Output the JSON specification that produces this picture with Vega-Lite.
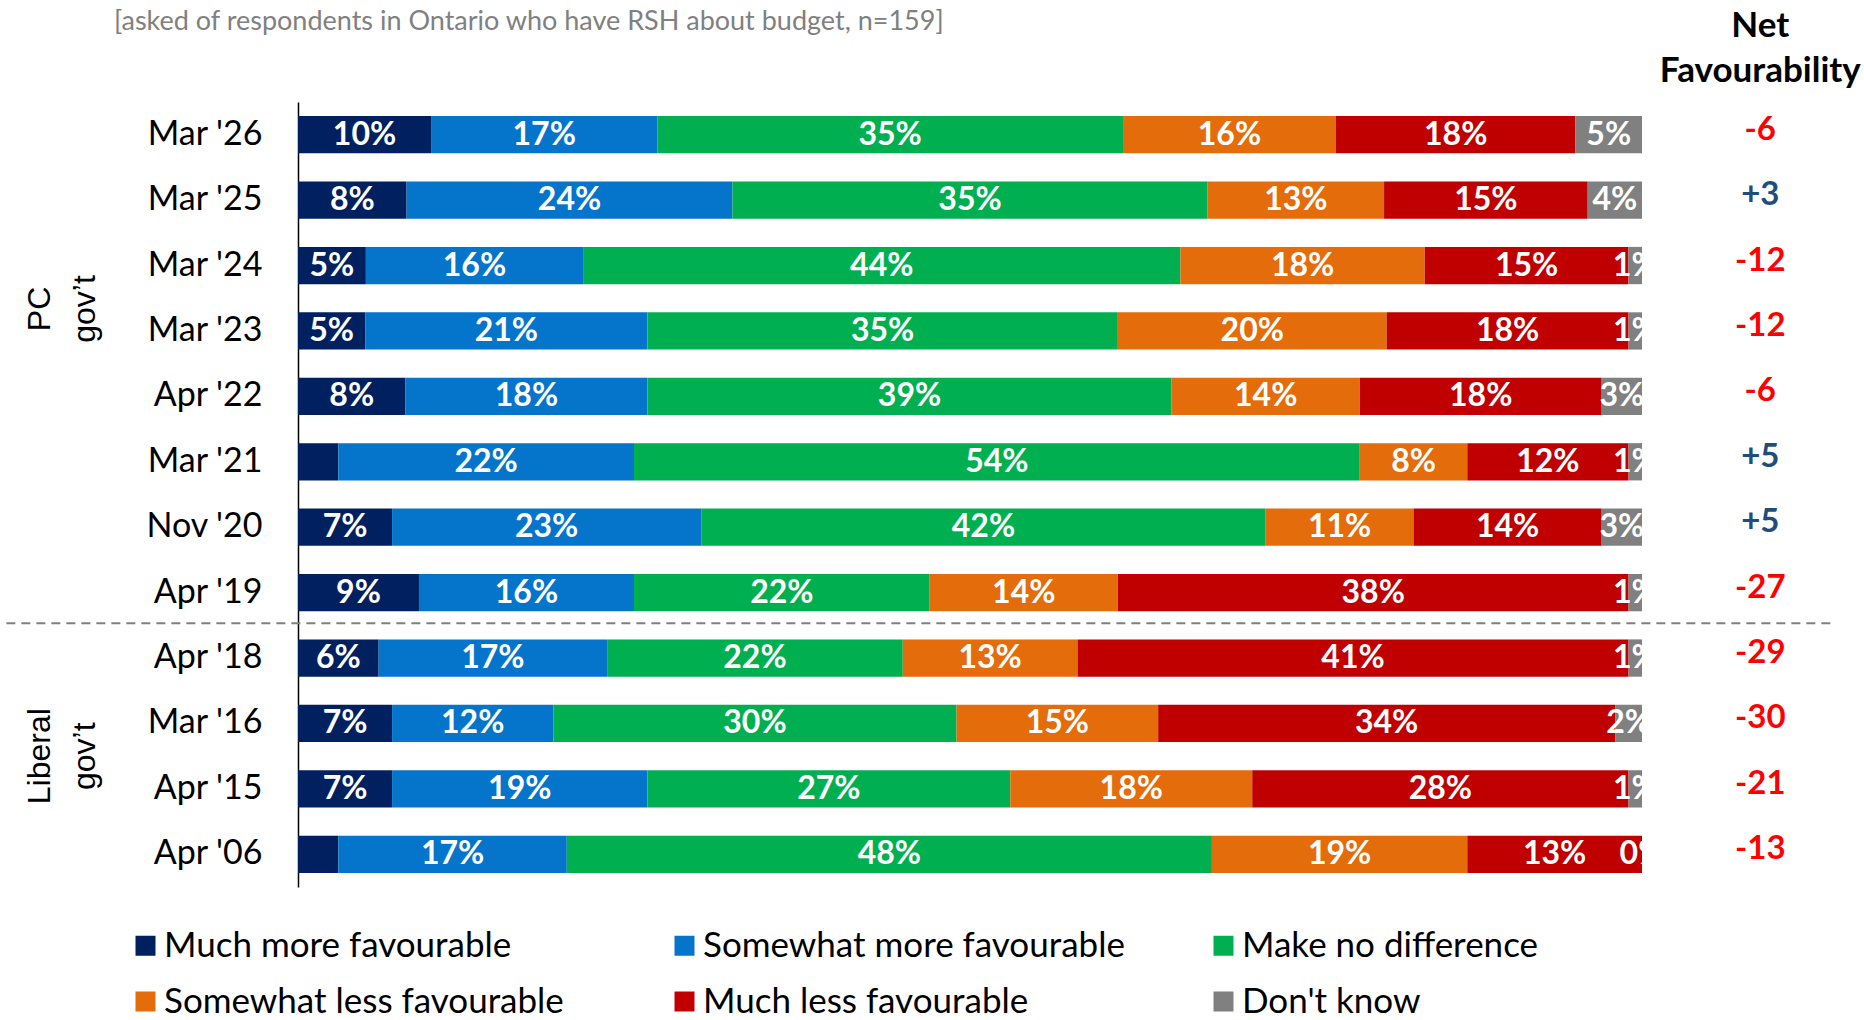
{
  "$schema": "https://vega.github.io/schema/vega-lite/v6.json",
  "width": 1344,
  "height": 785,
  "autosize": {"type": "none"},
  "padding": {"left": 298, "top": 102, "right": 222, "bottom": 133},
  "background": "white",
  "datasets": {
    "scale": [
      {"response": "Much more favourable", "rank": 1},
      {"response": "Somewhat more favourable", "rank": 2},
      {"response": "Make no difference", "rank": 3},
      {"response": "Somewhat less favourable", "rank": 4},
      {"response": "Much less favourable", "rank": 5},
      {"response": "Don't know", "rank": 6}
    ],
    "net": [
      {"period": "Mar '26", "net": "-6"},
      {"period": "Mar '25", "net": "+3"},
      {"period": "Mar '24", "net": "-12"},
      {"period": "Mar '23", "net": "-12"},
      {"period": "Apr '22", "net": "-6"},
      {"period": "Mar '21", "net": "+5"},
      {"period": "Nov '20", "net": "+5"},
      {"period": "Apr '19", "net": "-27"},
      {"period": "Apr '18", "net": "-29"},
      {"period": "Mar '16", "net": "-30"},
      {"period": "Apr '15", "net": "-21"},
      {"period": "Apr '06", "net": "-13"}
    ],
    "resp": [
      {"period": "Mar '26", "response": "Much more favourable", "share": 0.10},
      {"period": "Mar '26", "response": "Somewhat more favourable", "share": 0.17},
      {"period": "Mar '26", "response": "Make no difference", "share": 0.35},
      {"period": "Mar '26", "response": "Somewhat less favourable", "share": 0.16},
      {"period": "Mar '26", "response": "Much less favourable", "share": 0.18},
      {"period": "Mar '26", "response": "Don't know", "share": 0.05},
      {"period": "Mar '25", "response": "Much more favourable", "share": 0.08},
      {"period": "Mar '25", "response": "Somewhat more favourable", "share": 0.24},
      {"period": "Mar '25", "response": "Make no difference", "share": 0.35},
      {"period": "Mar '25", "response": "Somewhat less favourable", "share": 0.13},
      {"period": "Mar '25", "response": "Much less favourable", "share": 0.15},
      {"period": "Mar '25", "response": "Don't know", "share": 0.04},
      {"period": "Mar '24", "response": "Much more favourable", "share": 0.05},
      {"period": "Mar '24", "response": "Somewhat more favourable", "share": 0.16},
      {"period": "Mar '24", "response": "Make no difference", "share": 0.44},
      {"period": "Mar '24", "response": "Somewhat less favourable", "share": 0.18},
      {"period": "Mar '24", "response": "Much less favourable", "share": 0.15},
      {"period": "Mar '24", "response": "Don't know", "share": 0.01},
      {"period": "Mar '23", "response": "Much more favourable", "share": 0.05},
      {"period": "Mar '23", "response": "Somewhat more favourable", "share": 0.21},
      {"period": "Mar '23", "response": "Make no difference", "share": 0.35},
      {"period": "Mar '23", "response": "Somewhat less favourable", "share": 0.20},
      {"period": "Mar '23", "response": "Much less favourable", "share": 0.18},
      {"period": "Mar '23", "response": "Don't know", "share": 0.01},
      {"period": "Apr '22", "response": "Much more favourable", "share": 0.08},
      {"period": "Apr '22", "response": "Somewhat more favourable", "share": 0.18},
      {"period": "Apr '22", "response": "Make no difference", "share": 0.39},
      {"period": "Apr '22", "response": "Somewhat less favourable", "share": 0.14},
      {"period": "Apr '22", "response": "Much less favourable", "share": 0.18},
      {"period": "Apr '22", "response": "Don't know", "share": 0.03},
      {"period": "Mar '21", "response": "Much more favourable", "share": 0.03},
      {"period": "Mar '21", "response": "Somewhat more favourable", "share": 0.22},
      {"period": "Mar '21", "response": "Make no difference", "share": 0.54},
      {"period": "Mar '21", "response": "Somewhat less favourable", "share": 0.08},
      {"period": "Mar '21", "response": "Much less favourable", "share": 0.12},
      {"period": "Mar '21", "response": "Don't know", "share": 0.01},
      {"period": "Nov '20", "response": "Much more favourable", "share": 0.07},
      {"period": "Nov '20", "response": "Somewhat more favourable", "share": 0.23},
      {"period": "Nov '20", "response": "Make no difference", "share": 0.42},
      {"period": "Nov '20", "response": "Somewhat less favourable", "share": 0.11},
      {"period": "Nov '20", "response": "Much less favourable", "share": 0.14},
      {"period": "Nov '20", "response": "Don't know", "share": 0.03},
      {"period": "Apr '19", "response": "Much more favourable", "share": 0.09},
      {"period": "Apr '19", "response": "Somewhat more favourable", "share": 0.16},
      {"period": "Apr '19", "response": "Make no difference", "share": 0.22},
      {"period": "Apr '19", "response": "Somewhat less favourable", "share": 0.14},
      {"period": "Apr '19", "response": "Much less favourable", "share": 0.38},
      {"period": "Apr '19", "response": "Don't know", "share": 0.01},
      {"period": "Apr '18", "response": "Much more favourable", "share": 0.06},
      {"period": "Apr '18", "response": "Somewhat more favourable", "share": 0.17},
      {"period": "Apr '18", "response": "Make no difference", "share": 0.22},
      {"period": "Apr '18", "response": "Somewhat less favourable", "share": 0.13},
      {"period": "Apr '18", "response": "Much less favourable", "share": 0.41},
      {"period": "Apr '18", "response": "Don't know", "share": 0.01},
      {"period": "Mar '16", "response": "Much more favourable", "share": 0.07},
      {"period": "Mar '16", "response": "Somewhat more favourable", "share": 0.12},
      {"period": "Mar '16", "response": "Make no difference", "share": 0.30},
      {"period": "Mar '16", "response": "Somewhat less favourable", "share": 0.15},
      {"period": "Mar '16", "response": "Much less favourable", "share": 0.34},
      {"period": "Mar '16", "response": "Don't know", "share": 0.02},
      {"period": "Apr '15", "response": "Much more favourable", "share": 0.07},
      {"period": "Apr '15", "response": "Somewhat more favourable", "share": 0.19},
      {"period": "Apr '15", "response": "Make no difference", "share": 0.27},
      {"period": "Apr '15", "response": "Somewhat less favourable", "share": 0.18},
      {"period": "Apr '15", "response": "Much less favourable", "share": 0.28},
      {"period": "Apr '15", "response": "Don't know", "share": 0.01},
      {"period": "Apr '06", "response": "Much more favourable", "share": 0.03},
      {"period": "Apr '06", "response": "Somewhat more favourable", "share": 0.17},
      {"period": "Apr '06", "response": "Make no difference", "share": 0.48},
      {"period": "Apr '06", "response": "Somewhat less favourable", "share": 0.19},
      {"period": "Apr '06", "response": "Much less favourable", "share": 0.13},
      {"period": "Apr '06", "response": "Don't know", "share": 0.0}
    ]
  },
  "config": {
    "view": {"stroke": null},
    "font": "Lato",
    "axisX": {"disable": true},
    "axisY": {
      "domainColor": "black",
      "domainWidth": 1.5,
      "ticks": false,
      "tickSize": 0,
      "labelPadding": 36,
      "labelFontSize": 34,
      "labelFont": "Lato",
      "labelColor": "black",
      "grid": false
    }
  },
  "layer": [
    {
      "data": {"name": "resp"},
      "transform": [
        {"lookup": "response", "from": {"data": {"name": "scale"}, "key": "response", "fields": ["rank"]}}
      ],
      "mark": {"type": "bar"},
      "encoding": {
        "y": {
          "field": "period",
          "type": "nominal",
          "title": null,
          "scale": {
            "domain": ["Mar '26", "Mar '25", "Mar '24", "Mar '23", "Apr '22", "Mar '21", "Nov '20", "Apr '19", "Apr '18", "Mar '16", "Apr '15", "Apr '06"],
            "paddingInner": 0.43,
            "paddingOuter": 0.215
          }
        },
        "x": {
          "field": "share",
          "type": "quantitative",
          "stack": "normalize",
          "title": null,
          "scale": {"domain": [0, 1], "nice": false, "zero": false}
        },
        "color": {
          "field": "response",
          "type": "nominal",
          "scale": {
            "domain": ["Much more favourable", "Somewhat more favourable", "Make no difference", "Somewhat less favourable", "Much less favourable", "Don't know"],
            "range": ["#002060", "#0574CB", "#00B050", "#E46C0A", "#C00000", "#808080"]
          },
          "legend": {
            "title": null,
            "orient": "none",
            "legendX": -170,
            "legendY": 826,
            "direction": "horizontal",
            "columns": 3,
            "gridAlign": "all",
            "columnPadding": 81,
            "rowPadding": 20,
            "symbolType": "square",
            "symbolSize": 400,
            "symbolStrokeWidth": 0,
            "labelFontSize": 35,
            "labelFont": "Lato",
            "labelColor": "black",
            "labelOffset": 1,
            "labelLimit": 800
          }
        },
        "order": {"field": "rank", "type": "quantitative"}
      }
    },
    {
      "data": {"name": "resp"},
      "transform": [
        {"lookup": "response", "from": {"data": {"name": "scale"}, "key": "response", "fields": ["rank"]}}
      ],
      "mark": {"type": "text", "color": "white", "fontWeight": "bold", "fontSize": 32, "font": "Lato", "baseline": "middle", "align": "center", "clip": true},
      "encoding": {
        "y": {"field": "period", "type": "nominal", "title": null},
        "x": {"field": "share", "type": "quantitative", "stack": "normalize", "bandPosition": 0.5, "title": null},
        "detail": {"field": "response", "type": "nominal"},
        "order": {"field": "rank", "type": "quantitative"},
        "text": {"field": "share", "type": "quantitative", "format": ".0%"},
        "opacity": {"condition": {"test": "datum.response == \"Don't know\" || datum.share > 0.035", "value": 1}, "value": 0}
      }
    },
    {
      "data": {"name": "net"},
      "mark": {"type": "text", "fontWeight": "bold", "fontSize": 33, "font": "Lato", "baseline": "middle", "align": "center", "dy": -5},
      "encoding": {
        "y": {"field": "period", "type": "nominal", "title": null},
        "x": {"datum": 1.088},
        "text": {"field": "net", "type": "nominal"},
        "color": {"condition": {"test": "toNumber(datum.net) < 0", "value": "#FF0000"}, "value": "#1F4E79"}
      }
    },
    {
      "data": {"values": [{"h": "Net Favourability"}]},
      "mark": {"type": "text", "fontWeight": "bold", "fontSize": 35, "font": "Lato", "baseline": "alphabetic", "align": "center", "lineBreak": " ", "lineHeight": 45, "color": "black"},
      "encoding": {
        "x": {"datum": 1.088},
        "y": {"datum": "Mar '26", "type": "nominal", "bandPosition": -2.127, "title": null},
        "text": {"field": "h", "type": "nominal"}
      }
    },
    {
      "data": {"values": [{"t": "[asked of respondents in Ontario who have RSH about budget, n=159]"}]},
      "mark": {"type": "text", "fontSize": 27, "font": "Lato", "baseline": "alphabetic", "align": "left", "color": "#808080"},
      "encoding": {
        "x": {"datum": -0.1369},
        "y": {"datum": "Mar '26", "type": "nominal", "bandPosition": -2.308, "title": null},
        "text": {"field": "t", "type": "nominal"}
      }
    },
    {
      "data": {"values": [{"g": "PC gov’t"}]},
      "mark": {"type": "text", "angle": 270, "font": "Liberation Sans", "fontSize": 32, "lineBreak": " ", "lineHeight": 45, "align": "center", "baseline": "middle", "color": "black"},
      "encoding": {
        "x": {"datum": -0.192},
        "y": {"datum": "Mar '23", "type": "nominal", "bandPosition": -0.09, "title": null},
        "text": {"field": "g", "type": "nominal"}
      }
    },
    {
      "data": {"values": [{"g": "Liberal gov’t"}]},
      "mark": {"type": "text", "angle": 270, "font": "Liberation Sans", "fontSize": 32, "lineBreak": " ", "lineHeight": 45, "align": "center", "baseline": "middle", "color": "black"},
      "encoding": {
        "x": {"datum": -0.192},
        "y": {"datum": "Apr '15", "type": "nominal", "bandPosition": -0.375, "title": null},
        "text": {"field": "g", "type": "nominal"}
      }
    },
    {
      "data": {"values": [{"s": "PC / Liberal government boundary"}]},
      "mark": {"type": "rule", "strokeDash": [9, 6], "color": "#808080", "strokeWidth": 2},
      "encoding": {
        "x": {"datum": -0.217},
        "x2": {"datum": 1.1406},
        "y": {"datum": "Apr '18", "type": "nominal", "bandPosition": -0.43, "title": null}
      }
    }
  ]
}
